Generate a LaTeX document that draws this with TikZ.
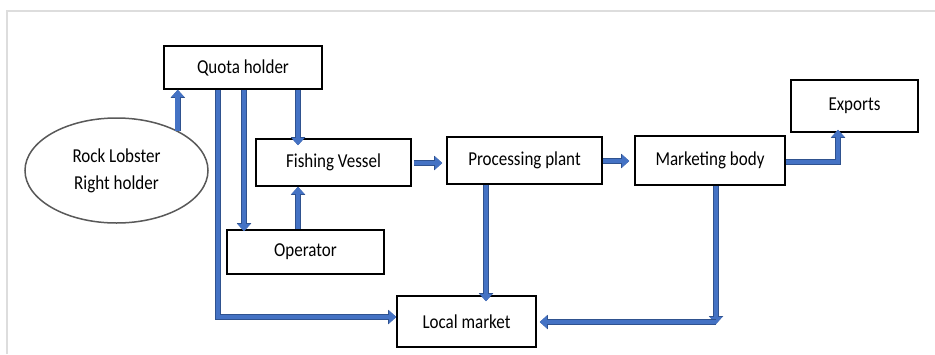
\documentclass[tikz,border=0pt]{standalone}
\usepackage{fontspec}
\setmainfont{Carlito}
\usetikzlibrary{arrows.meta,shapes.geometric}
\definecolor{afill}{HTML}{4472C4}
\definecolor{aedge}{HTML}{2F528F}
\definecolor{framecol}{HTML}{DDDDDD}
\definecolor{ellcol}{HTML}{595959}
\newcommand{\tx}[1]{\scalebox{1}[1.16]{#1}}
\tikzset{
  box/.style={draw=black, line width=1.6pt, rectangle, inner sep=0pt, font=\fontsize{17}{20}\selectfont, fill=white},
  blockarrow/.style={draw=afill, line width=4.6pt, line join=miter, line cap=butt,
    -{Triangle[width=12.5pt,length=7pt,line width=0pt]},
    preaction={draw=aedge, line width=6.2pt, -{Triangle[width=14.5pt,length=8pt,line width=0pt]}}},
}
\begin{document}
\begin{tikzpicture}[x=1pt,y=-1pt]
\useasboundingbox (0,0) rectangle (935,354);
\fill[white] (0,0) rectangle (935,354);
\draw[framecol, line width=2pt] (7,354) -- (7,11) -- (935,11);

\node[box, minimum width=158pt, minimum height=43pt] (Q) at (243,67.5) {\tx{Quota holder}};
\node[draw=ellcol, line width=1.5pt, ellipse, minimum width=183pt, minimum height=105pt, inner sep=0pt,
      align=center, font=\fontsize{17}{27}\selectfont] (E) at (116.5,170.5) {\tx{Rock Lobster}\\\tx{Right holder}};
\node[box, minimum width=155pt, minimum height=47pt] (FV) at (333.5,162.5) {\tx{Fishing Vessel}};
\node[box, minimum width=157pt, minimum height=44pt] (OP) at (305.5,252) {\tx{Operator}};
\node[box, minimum width=139pt, minimum height=51pt] (LM) at (466.5,321.5) {\tx{Local market}};
\node[box, minimum width=155pt, minimum height=47pt] (PP) at (524.5,160.5) {\tx{Processing plant}};
\node[box, minimum width=150pt, minimum height=49pt] (MB) at (710,160.5) {\tx{Marketing body}};
\node[box, minimum width=127pt, minimum height=52pt] (EX) at (854.5,106) {\tx{Exports}};

% Rock lobster -> Quota holder
\draw[blockarrow] (E.33) -- (E.33 |- Q.south);
% Quota holder -> Local market (elbow)
\coordinate (qx) at (218,317);
\draw[blockarrow] (Q.south -| qx) -- (qx) -- (qx -| LM.west);
% Quota holder -> Operator
\coordinate (ox) at (244,0);
\draw[blockarrow] (Q.south -| ox) -- ([yshift=-2pt]OP.north -| ox);
% Quota holder -> Fishing vessel
\coordinate (fx) at (298,0);
\draw[blockarrow] (Q.south -| fx) -- ([yshift=-7pt]FV.north -| fx);
% Operator -> Fishing vessel
\draw[blockarrow] (OP.north -| fx) -- (FV.south -| fx);
% Fishing vessel -> Processing plant
\coordinate (fy) at (0,163);
\draw[blockarrow] ([xshift=2pt]FV.east |- fy) -- ([xshift=-4pt]PP.west |- fy);
% Processing plant -> Marketing body
\coordinate (py) at (0,161);
\draw[blockarrow] (PP.east |- py) -- ([xshift=-5pt]MB.west |- py);
% Marketing body -> Exports
\coordinate (mx) at (838,162);
\draw[blockarrow] (MB.east |- mx) -- (mx) -- ([yshift=3pt]EX.south -| mx);
% Processing plant -> Local market
\coordinate (px) at (486,0);
\draw[blockarrow] (PP.south -| px) -- ([yshift=-6pt]LM.north -| px);
% Marketing body -> Local market
\coordinate (lx) at (716,322);
\draw[blockarrow] (MB.south -| lx) -- ([yshift=-2pt]lx);
\draw[blockarrow] (lx) -- ([xshift=3pt]LM.east |- lx);
\end{tikzpicture}
\end{document}
